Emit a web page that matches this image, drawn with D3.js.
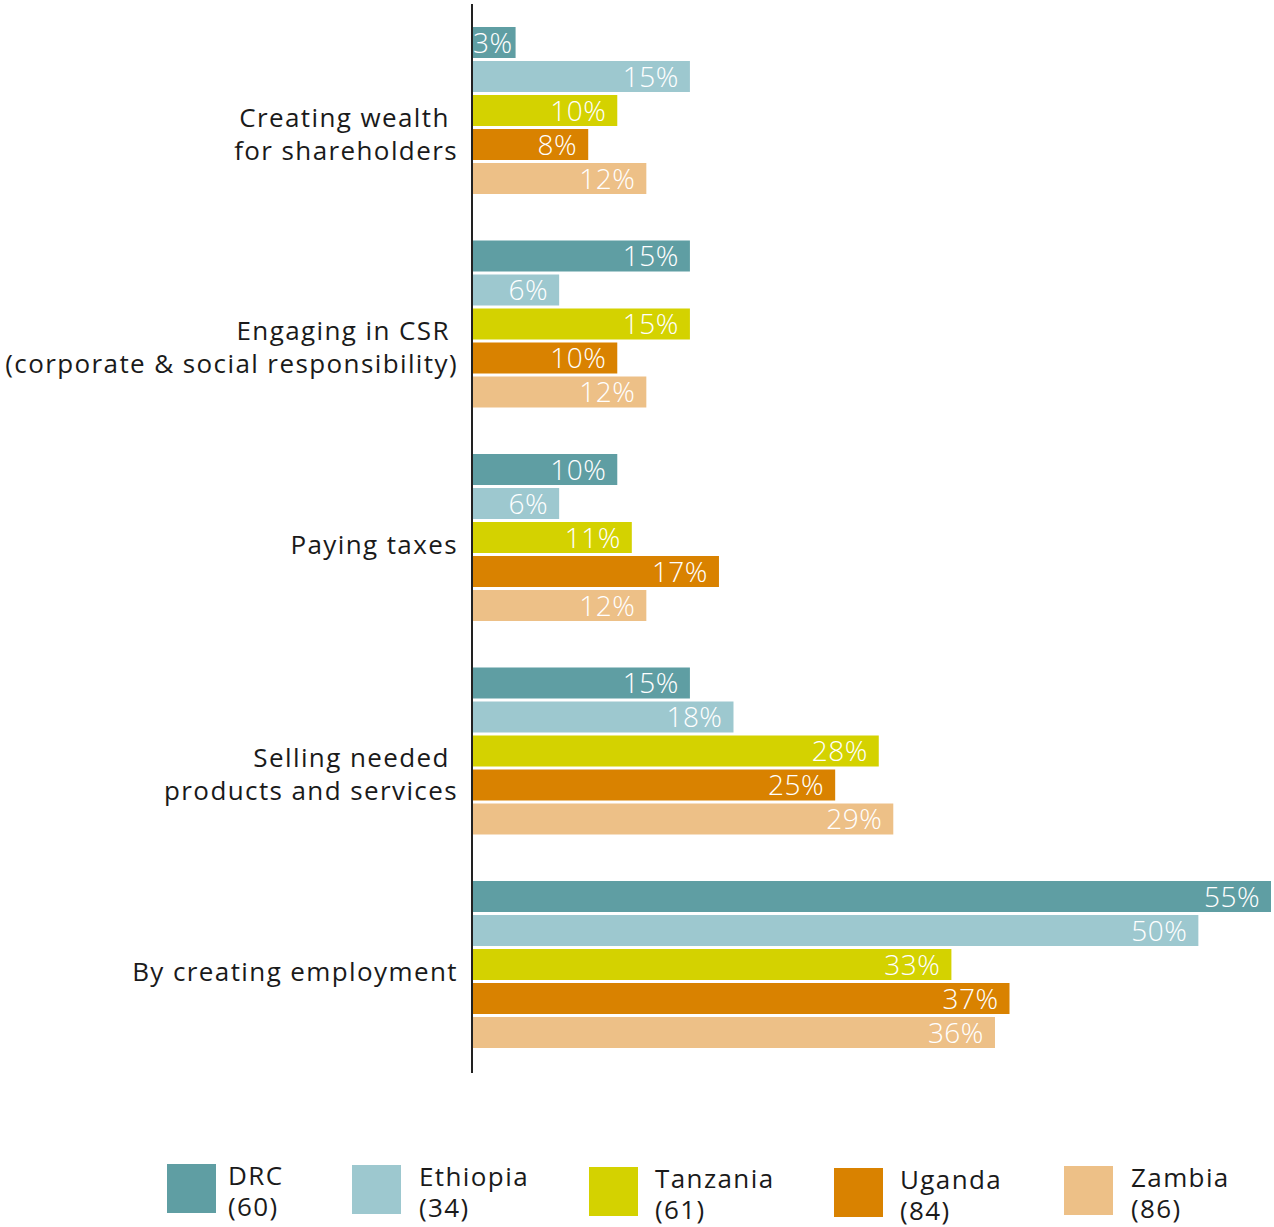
<!DOCTYPE html>
<html>
<head>
<meta charset="utf-8">
<script src="https://cdn.jsdelivr.net/npm/d3@7"></script>
<style>
  body { margin: 0; background: #fff; }
  svg text { font-family: "Open Sans", "Noto Sans", sans-serif; }
</style>
</head>
<body>
<svg id="chart" width="1274" height="1227"></svg>
<script>
// categories (label lines) and series
const categories = ['wealth', 'csr', 'taxes', 'products', 'employment'];
const categoryLines = [
    ['Creating wealth ', 'for shareholders'],
    ['Engaging in CSR ', '(corporate & social responsibility)'],
    ['Paying taxes'],
    ['Selling needed ', 'products and services'],
    ['By creating employment']
];
const countries = ['DRC', 'Ethiopia', 'Tanzania', 'Uganda', 'Zambia'];
const sampleSizes = ['(60)', '(34)', '(61)', '(84)', '(86)'];
const colors = ['#5f9ea3', '#9dc8cf', '#d4d200', '#d98200', '#edc087'];

// percentages per category, in country order
const drc      = [3, 15, 10, 15, 55];
const ethiopia = [15, 6, 6, 18, 50];
const tanzania = [10, 15, 11, 28, 33];
const uganda   = [8, 10, 17, 25, 37];
const zambia   = [12, 12, 12, 29, 36];
const seriesValues = [drc, ethiopia, tanzania, uganda, zambia];

const svg = d3.select('#chart');

const x = d3.scaleLinear().domain([0, 55]).range([472, 1271]);
const y0 = d3.scaleBand().domain(categories).range([27, 27 + 5 * 213.5]);
const y1 = d3.scaleBand().domain(countries).range([0, 170]);
const barH = 31;

const rows = [];
categories.forEach((c, ci) => {
    countries.forEach((k, ki) => {
        rows.push({ cat: c, country: k, ki: ki, value: seriesValues[ki][ci] });
    });
});

const bars = svg.append('g');
bars.selectAll('rect')
    .data(rows)
    .enter()
    .append('rect')
    .attr('x', x(0))
    .attr('y', d => y0(d.cat) + y1(d.country))
    .attr('width', d => x(d.value) - x(0))
    .attr('height', barH)
    .attr('fill', d => colors[d.ki]);

bars.selectAll('text')
    .data(rows)
    .enter()
    .append('text')
    .attr('x', d => x(d.value) - 11)
    .attr('y', d => y0(d.cat) + y1(d.country) + barH / 2)
    .attr('dy', '0.36em')
    .attr('text-anchor', 'end')
    .attr('font-size', '28px')
    .attr('font-weight', 300)
    .attr('letter-spacing', '0.5px')
    .attr('fill', '#fff')
    .text(d => d.value + '%')
    .each(function(d) {
        // keep short labels inside the axis
        const w = this.getComputedTextLength();
        if (x(d.value) - 11 - w < x(0) + 1) {
            d3.select(this).attr('text-anchor', 'start').attr('x', x(0) + 1);
        }
    });

// axis line
svg.append('line')
    .attr('x1', x(0)).attr('x2', x(0))
    .attr('y1', 4).attr('y2', 1073)
    .attr('stroke', '#222')
    .attr('stroke-width', 2);

// category labels
const catLabels = svg.append('g');
categories.forEach((c, ci) => {
    const mid = y0(c) + (y1('Zambia') + barH) / 2;
    const t = catLabels.append('text')
        .attr('x', 458)
        .attr('y', mid + 7)
        .attr('text-anchor', 'end')
        .attr('font-size', '26px')
        .attr('letter-spacing', '1.4px')
        .attr('fill', '#1a1a1a')
        .attr('xml:space', 'preserve')
        .style('white-space', 'pre');
    categoryLines[ci].forEach((line, li) => {
        t.append('tspan')
            .attr('x', 458)
            .attr('y', mid + 7 + li * 33)
            .attr('dy', '0.35em')
            .text(line);
    });
});

// legend
const legendX = [167, 352, 589, 834, 1064];
const legendY = [1164, 1165, 1167, 1168, 1166];
const legendTextDx = [61, 67, 66, 66, 67];
const legend = svg.append('g');
countries.forEach((k, i) => {
    const g = legend.append('g').attr('transform', `translate(${legendX[i]},${legendY[i]})`);
    g.append('rect')
        .attr('width', 49)
        .attr('height', 49)
        .attr('fill', colors[i]);
    const t = g.append('text')
        .attr('font-size', '26px')
        .attr('letter-spacing', '1.4px')
        .attr('fill', '#1a1a1a');
    [k, sampleSizes[i]].forEach((s, li) => {
        t.append('tspan')
            .attr('x', legendTextDx[i])
            .attr('y', 12 + li * 31)
            .attr('dy', '0.35em')
            .text(s);
    });
});
</script>
</body>
</html>
